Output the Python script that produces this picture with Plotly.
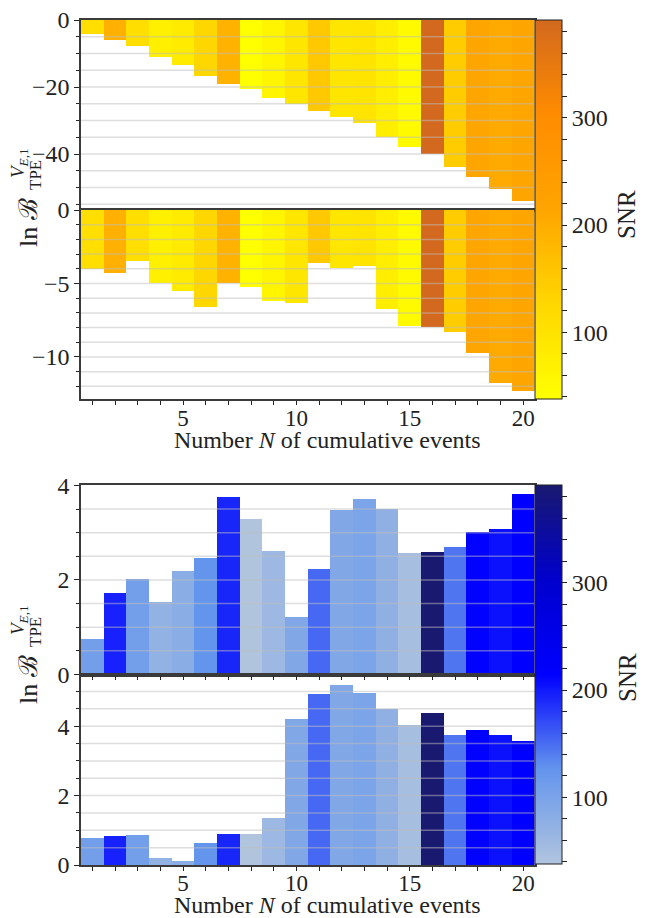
import plotly.graph_objects as go

# ---------------- data ----------------
N = list(range(1, 21))
snr = [110, 195, 110, 72, 82, 126, 192, 38, 60, 93, 153, 93, 98, 75, 50, 391, 145, 214, 205, 215]

top_upper = [-4.1, -5.9, -7.7, -11.1, -13.3, -16.6, -19.0, -20.6, -23.2, -25.2,
             -27.1, -28.9, -30.8, -35.0, -38.0, -39.9, -43.8, -46.8, -50.3, -53.9]
top_lower = [-4.0, -4.26, -3.47, -4.97, -5.49, -6.58, -4.97, -5.24, -6.17, -6.30,
             -3.58, -3.92, -3.81, -6.73, -7.89, -7.96, -8.30, -9.73, -11.75, -12.31]
bot_upper = [0.76, 1.72, 2.02, 1.53, 2.19, 2.46, 3.76, 3.29, 2.61, 1.21,
             2.23, 3.48, 3.72, 3.50, 2.57, 2.59, 2.70, 3.02, 3.08, 3.82]
bot_lower = [0.78, 0.85, 0.88, 0.23, 0.12, 0.64, 0.92, 0.92, 1.37, 4.22,
             4.94, 5.20, 4.97, 4.51, 4.05, 4.39, 3.76, 3.90, 3.76, 3.58]

snr_min, snr_max = 38, 391
cbar_ticks = list(range(40, 381, 20))
cbar_labels = [str(v) if v % 100 == 0 else "" for v in cbar_ticks]

yellow_scale = [[0, "#ffff00"], [0.25, "#ffd700"], [0.5, "#ffa500"], [0.75, "#ff8c00"], [1, "#d2691e"]]
blue_scale = [[0, "#b0c4de"], [0.25, "#6495ed"], [0.5, "#0000ff"], [0.75, "#0000cd"], [1, "#191970"]]

# ---------------- layout helpers ----------------
W, H = 650, 918
FONT = "Liberation Serif"
TXT = "#222222"

def px(x):
    return x / W

def py(y):
    return 1 - y / H

x_dom = [px(81), px(534.5)]
panels = {
    # name: (ydomain top px, bottom px, range, major dtick, minor dtick)
    1: (20, 210, [-56.7, 0], 20, 5),
    2: (210, 399.3, [-12.88, 0], 5, 1),
    3: (485, 674.5, [0, 4.01], 2, 0.5),
    4: (674.5, 865, [0, 5.49], 2, 0.5),
}
values = {1: top_upper, 2: top_lower, 3: bot_upper, 4: bot_lower}
scales = {1: yellow_scale, 2: yellow_scale, 3: blue_scale, 4: blue_scale}

fig = go.Figure()

def cbar(top, bottom):
    return dict(
        x=px(535), xanchor="left", y=py(top), yanchor="top",
        len=(bottom - top) / H, lenmode="fraction",
        thickness=27, thicknessmode="pixels", xpad=0, ypad=0,
        outlinewidth=1, outlinecolor=TXT,
        ticks="outside", ticklen=5, tickwidth=1.2, tickcolor=TXT,
        tickmode="array", tickvals=cbar_ticks, ticktext=cbar_labels,
        tickfont=dict(family=FONT, size=24, color=TXT),
    )

for k in range(1, 5):
    suffix = "" if k == 1 else str(k)
    show = k in (1, 3)
    marker = dict(color=snr, colorscale=scales[k], cmin=snr_min, cmax=snr_max,
                  line=dict(width=0), showscale=show)
    if k == 1:
        marker["colorbar"] = cbar(20, 399)
    if k == 3:
        marker["colorbar"] = cbar(485, 864)
    fig.add_trace(go.Bar(x=N, y=values[k], width=1, marker=marker,
                         xaxis="x" + suffix, yaxis="y" + suffix, showlegend=False,
                         hoverinfo="x+y"))

axis_common = dict(showline=True, linecolor="#3a3a3a", linewidth=1.5, mirror=True,
                   ticks="outside", tickcolor=TXT, tickwidth=1.2,
                   tickfont=dict(family=FONT, size=24, color=TXT),
                   showgrid=False, zeroline=False, automargin=False)

layout = dict(width=W, height=H, margin=dict(l=0, r=0, t=0, b=0, autoexpand=False),
              paper_bgcolor="white", plot_bgcolor="white",
              bargap=0, barmode="overlay", showlegend=False)

shapes = []
for k, (top, bottom, rng, dmaj, dmin) in panels.items():
    suffix = "" if k == 1 else str(k)
    layout["xaxis" + suffix] = dict(
        axis_common, domain=x_dom, anchor="y" + suffix, range=[0.5, 20.5],
        tickmode="linear", tick0=0, dtick=5, ticklen=4,
        showticklabels=k in (2, 4), ticklabelstandoff=-7,
        tickfont=dict(family=FONT, size=23, color=TXT),
        minor=dict(tickmode="linear", tick0=0, dtick=1, ticks="outside", ticklen=4,
                   tickcolor=TXT, tickwidth=1.2, showgrid=False),
    )
    layout["yaxis" + suffix] = dict(
        axis_common, domain=[py(bottom), py(top)], anchor="x" + suffix, range=rng,
        tickmode="linear", tick0=0, dtick=dmaj, ticklen=5,
        minor=dict(tickmode="linear", tick0=0, dtick=dmin, ticks="outside", ticklen=3,
                   tickcolor=TXT, tickwidth=1.2, showgrid=False),
    )
    # grid lines drawn above the bars, every minor step
    lo, hi = rng
    steps = int(round((hi - lo) / dmin)) + 2
    start = (int(lo / dmin)) * dmin
    for i in range(steps + 1):
        val = round(start + i * dmin, 6)
        if lo + 1e-6 < val < hi - 0.05 * dmin and abs(val) > 1e-9:
            shapes.append(dict(type="line", xref="x" + suffix + " domain", x0=0, x1=1,
                               yref="y" + suffix, y0=val, y1=val, layer="above",
                               line=dict(color="rgba(190,190,190,0.5)", width=1.5)))

layout["shapes"] = shapes

annotations = []
xlabel = "Number <i>N</i> of cumulative events"
for yy in (440, 905):
    annotations.append(dict(text=xlabel, x=px(327), y=py(yy), xref="paper", yref="paper",
                            showarrow=False, xanchor="center", yanchor="middle",
                            font=dict(family=FONT, size=24, color=TXT)))
for yy in (215, 678):
    annotations.append(dict(text="SNR", x=px(627), y=py(yy), xref="paper", yref="paper",
                            showarrow=False, textangle=-90, xanchor="center", yanchor="middle",
                            font=dict(family=FONT, size=25, color=TXT)))
# y-axis label  ln B_TPE^{V_E,1}
for base in (223, 680):
    annotations.append(dict(text="ln ℬ", x=px(28), y=py(base), xref="paper", yref="paper",
                            showarrow=False, textangle=-90, xanchor="center", yanchor="middle",
                            font=dict(family=FONT, size=26, color=TXT)))
    annotations.append(dict(text="<i>V</i><sub><i>E</i>,1</sub>", x=px(19), y=py(base - 60),
                            xref="paper", yref="paper", showarrow=False, textangle=-90,
                            xanchor="center", yanchor="middle",
                            font=dict(family=FONT, size=19, color=TXT)))
    annotations.append(dict(text="TPE", x=px(35), y=py(base - 48), xref="paper", yref="paper",
                            showarrow=False, textangle=-90, xanchor="center", yanchor="middle",
                            font=dict(family=FONT, size=17, color=TXT)))
layout["annotations"] = annotations

fig.update_layout(**layout)
fig.write_html("out.html")
